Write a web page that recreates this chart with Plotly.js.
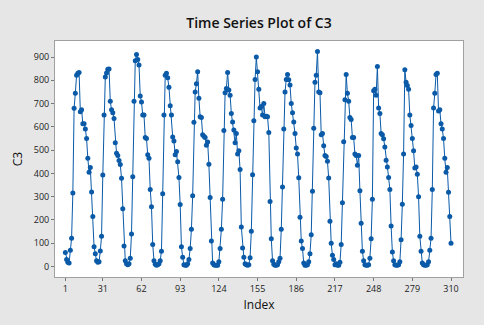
<!DOCTYPE html>
<html>
<head>
<meta charset="utf-8">
<script src="https://cdn.plot.ly/plotly-3.0.1.min.js"></script>
<style>
html,body{margin:0;padding:0;background:#e6e6e6;}
#chart{width:484px;height:325px;box-sizing:border-box;}
</style>
</head>
<body>
<div id="chart"></div>
<script>
// C3 values, index 1..310
const c3Values = [
 60, 30, 18, 15, 70, 122, 316, 680, 745, 822, 830, 834, 665, 674, 613, 613, 591, 550, 465, 405, 425, 320, 215, 85, 55, 25, 18, 20,
 67, 130, 393, 651, 814, 831, 848, 849, 710, 674, 661, 636, 532, 487, 477, 456, 438, 379, 248, 88, 25, 12, 8, 12,
 36, 140, 386, 710, 884, 911, 889, 866, 733, 707, 651, 651, 554, 550, 480, 465, 331, 257, 95, 25, 10, 6, 8, 12,
 25, 66, 313, 651, 822, 830, 811, 770, 691, 651, 557, 539, 480, 494, 450, 383, 267, 85, 40, 8, 5, 6, 12, 30,
 77, 160, 304, 620, 750, 785, 837, 723, 643, 640, 566, 560, 554, 521, 535, 439, 297, 110, 15, 8, 5, 6, 5, 20,
 77, 160, 289, 584, 747, 765, 834, 758, 736, 658, 621, 587, 532, 572, 483, 497, 417, 170, 80, 40, 12, 8, 5, 8, 38, 152,
 394, 626, 804, 900, 837, 762, 681, 688, 651, 700, 643, 646, 643, 576, 279, 119, 25, 10, 5, 5, 8, 20, 36, 160, 342,
 591, 750, 804, 825, 803, 780, 700, 661, 621, 572, 509, 483, 381, 212, 110, 77, 15, 5, 5, 8, 20, 55, 137, 323,
 594, 792, 822, 924, 750, 747, 566, 572, 519, 477, 473, 452, 380, 194, 100, 48, 30, 8, 12, 5, 5, 18, 95, 274,
 536, 717, 825, 744, 710, 640, 632, 554, 554, 483, 477, 435, 477, 326, 186, 66, 25, 8, 5, 5, 8, 36, 119, 289,
 755, 762, 736, 859, 681, 658, 572, 566, 549, 514, 457, 428, 383, 331, 174, 62, 25, 8, 5, 5, 8, 21, 115, 268,
 483, 845, 792, 778, 762, 651, 606, 550, 497, 423, 428, 397, 300, 130, 66, 15, 8, 5, 5, 8, 20, 70, 122, 331,
 681, 744, 825, 830, 668, 674, 613, 591, 550, 465, 405, 425, 319, 215, 100
];
const indexValues = c3Values.map((v, i) => i + 1);
const xTickVals = [1, 31, 62, 93, 124, 155, 186, 217, 248, 279, 310];
const yTickVals = [0, 100, 200, 300, 400, 500, 600, 700, 800, 900];

const blue = '#0a5aa8';
const trace = {
  x: indexValues,
  y: c3Values,
  type: 'scatter',
  mode: 'lines+markers',
  line: {color: blue, width: 1},
  marker: {color: blue, size: 5, symbol: 'circle'},
  hoverinfo: 'none'
};

const tickFont = {family: 'Open Sans, Noto Sans, sans-serif', size: 9, color: '#222'};
const layout = {
  width: 484,
  height: 325,
  paper_bgcolor: '#e6e6e6',
  plot_bgcolor: '#ffffff',
  margin: {l: 55, r: 21, t: 41, b: 48, pad: 0},
  showlegend: false,
  title: {
    text: 'Time Series Plot of C3',
    font: {family: 'Open Sans, Noto Sans, sans-serif', size: 14, color: '#111', weight: 600},
    x: 0.5, xref: 'paper', xanchor: 'center',
    y: 0.93, yref: 'container', yanchor: 'middle'
  },
  xaxis: {
    range: [-7.3, 319.6],
    tickmode: 'array',
    tickvals: xTickVals,
    ticktext: xTickVals.map(String),
    ticks: 'outside', ticklen: 3, tickcolor: '#777', tickwidth: 1,
    showgrid: false, zeroline: false,
    showline: true, linecolor: '#a0a0a0', linewidth: 1, mirror: true,
    tickfont: tickFont,
    title: {text: 'Index', font: {family: 'Open Sans, Noto Sans, sans-serif', size: 12, color: '#111'}, standoff: 6}
  },
  yaxis: {
    range: [-45, 969],
    tickmode: 'array',
    tickvals: yTickVals,
    ticktext: yTickVals.map(String),
    ticks: 'outside', ticklen: 3, tickcolor: '#777', tickwidth: 1,
    showgrid: false, zeroline: false,
    showline: true, linecolor: '#a0a0a0', linewidth: 1, mirror: true,
    tickfont: tickFont,
    title: {text: 'C3', font: {family: 'Open Sans, Noto Sans, sans-serif', size: 12, color: '#111'}, standoff: 8}
  }
};
Plotly.newPlot('chart', [trace], layout, {displayModeBar: false, staticPlot: true});
</script>
</body>
</html>
